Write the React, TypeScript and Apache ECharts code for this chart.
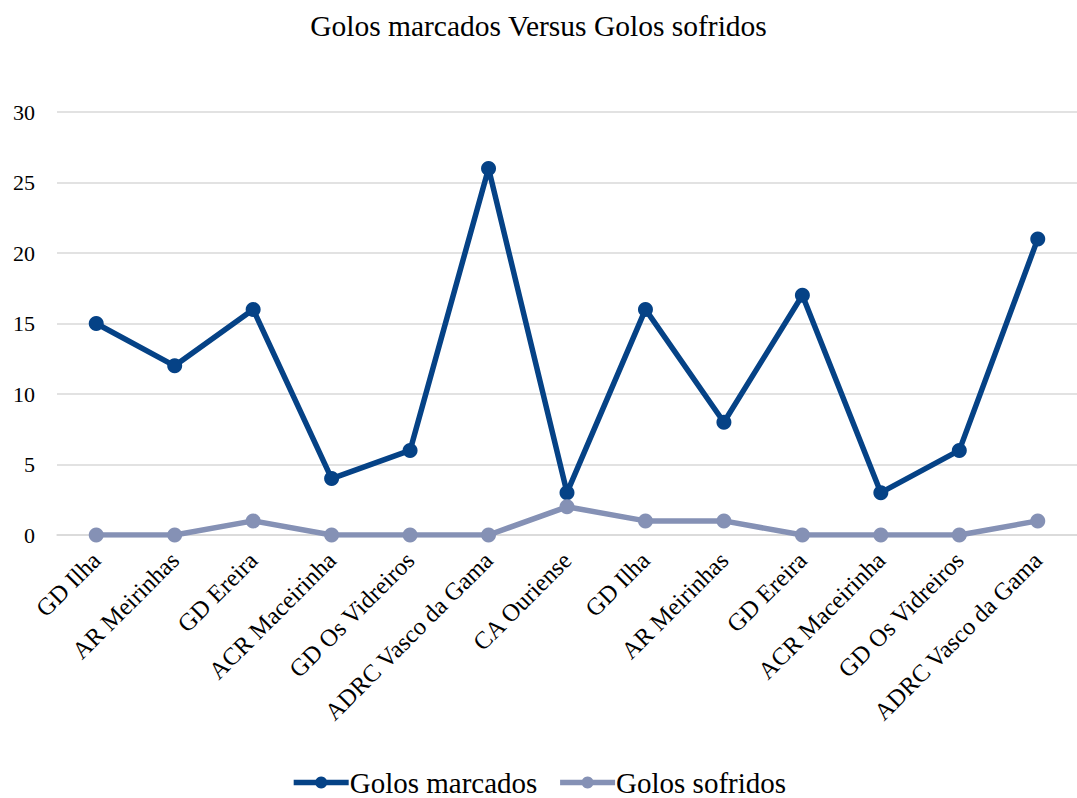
import React, { useEffect, useRef } from "react";
import * as echarts from "echarts";

const categories = [
  "GD Ilha",
  "AR Meirinhas",
  "GD Ereira",
  "ACR Maceirinha",
  "GD Os Vidreiros",
  "ADRC Vasco da Gama",
  "CA Ouriense",
  "GD Ilha",
  "AR Meirinhas",
  "GD Ereira",
  "ACR Maceirinha",
  "GD Os Vidreiros",
  "ADRC Vasco da Gama",
];
const golosMarcados = [15, 12, 16, 4, 6, 26, 3, 16, 8, 17, 3, 6, 21];
const golosSofridos = [0, 0, 1, 0, 0, 0, 2, 1, 1, 0, 0, 0, 1];
const yTicks = { min: 0, max: 30, interval: 5 };

const FONT = '"Liberation Serif", "Times New Roman", serif';
const DARK = "#054286";
const LIGHT = "#8591B5";

export default function App() {
  const ref = useRef<HTMLDivElement>(null);
  useEffect(() => {
    if (!ref.current) return;
    const chart = echarts.init(ref.current, undefined, { renderer: "svg" });
    chart.setOption({
      animation: false,
      backgroundColor: "#ffffff",
      title: {
        text: "Golos marcados Versus Golos sofridos",
        left: "center",
        top: 6,
        textStyle: { fontFamily: FONT, fontSize: 29.5, fontWeight: "normal", color: "#000" },
      },
      legend: {
        top: 763,
        left: "center",
        itemWidth: 55,
        itemHeight: 15,
        itemGap: 20,
        lineStyle: { width: 5.5 },
        textStyle: { fontFamily: FONT, fontSize: 29, color: "#000", padding: [0, 0, 0, -4] },
        data: ["Golos marcados", "Golos sofridos"],
      },
      grid: { left: 57, top: 112, width: 1029, height: 423, containLabel: false },
      xAxis: {
        type: "category",
        data: categories,
        boundaryGap: true,
        axisLine: { show: true, lineStyle: { color: "#d9d9d9", width: 1.5 } },
        axisTick: { show: false },
        axisLabel: {
          rotate: 45,
          interval: 0,
          margin: 21,
          fontFamily: FONT,
          fontSize: 24.5,
          color: "#000",
        },
      },
      yAxis: {
        type: "value",
        min: yTicks.min,
        max: yTicks.max,
        interval: yTicks.interval,
        axisLine: { show: false },
        axisTick: { show: false },
        splitLine: { lineStyle: { color: "#d9d9d9", width: 1.5 } },
        axisLabel: { margin: 22, fontFamily: FONT, fontSize: 22, color: "#000" },
      },
      series: [
        {
          name: "Golos marcados",
          type: "line",
          data: golosMarcados,
          symbol: "circle",
          symbolSize: 15,
          color: DARK,
          lineStyle: { width: 5.5, color: DARK },
          itemStyle: { color: DARK },
        },
        {
          name: "Golos sofridos",
          type: "line",
          data: golosSofridos,
          symbol: "circle",
          symbolSize: 15,
          color: LIGHT,
          lineStyle: { width: 5.5, color: LIGHT },
          itemStyle: { color: LIGHT },
        },
      ],
    });
    return () => chart.dispose();
  }, []);
  return (
    <div
      ref={ref}
      style={{ position: "fixed", left: 0, top: 0, width: 1077, height: 798, background: "#fff" }}
    />
  );
}
